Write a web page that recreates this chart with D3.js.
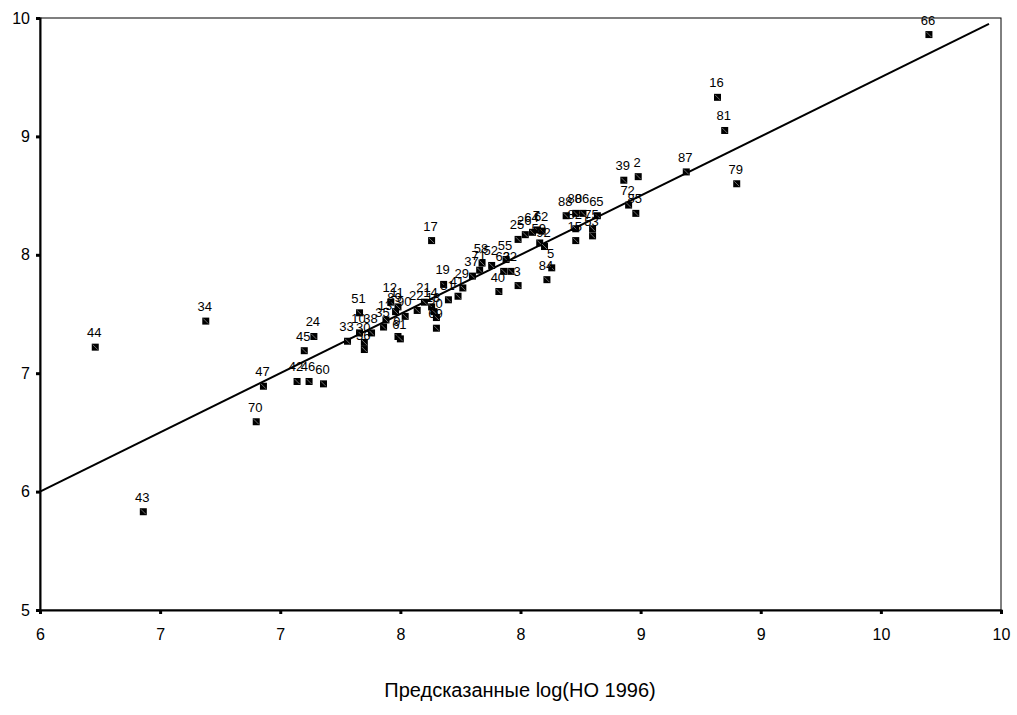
<!DOCTYPE html>
<html>
<head>
<meta charset="utf-8">
<script src="https://cdn.jsdelivr.net/npm/d3@7"></script>
<style>
  body { margin: 0; background: #fff; }
  text { font-family: Arial, "Liberation Sans", sans-serif; fill: #000; }
</style>
</head>
<body>
<div id="chart"></div>
<script>
// Case numbers, predicted log values (x) and observed log values (y)
const caseLabels = ["66","16","81","87","79","39","2","72","85","88","80","86","65","82","15","75","53",
  "25","26","64","7","62","59","92","5","84","55","63","32","3","40","58","52","71","37","29","41",
  "19","31","17","44","34","43","47","70","42","46","60","45","24","33","51","10","38","30","36",
  "35","13","12","89","11","90","9","61","22","21","14","18","20","69"];
const predicted = [9.70,8.82,8.85,8.69,8.90,8.43,8.49,8.45,8.48,8.19,8.23,8.26,8.32,8.23,8.23,8.30,8.30,
  7.99,8.02,8.05,8.07,8.09,8.08,8.10,8.13,8.11,7.94,7.93,7.96,7.99,7.91,7.84,7.88,7.83,7.80,7.76,7.74,
  7.68,7.70,7.63,6.23,6.69,6.43,6.93,6.90,7.07,7.12,7.18,7.10,7.14,7.28,7.33,7.33,7.38,7.35,7.35,
  7.43,7.44,7.46,7.48,7.49,7.52,7.49,7.50,7.57,7.60,7.63,7.64,7.65,7.65];
const observed = [9.86,9.33,9.05,8.70,8.60,8.63,8.66,8.42,8.35,8.33,8.35,8.35,8.33,8.22,8.12,8.22,8.16,
  8.13,8.17,8.19,8.21,8.20,8.10,8.07,7.89,7.79,7.96,7.86,7.86,7.74,7.69,7.93,7.91,7.87,7.82,7.72,7.65,
  7.75,7.62,8.12,7.22,7.44,5.83,6.89,6.59,6.93,6.93,6.91,7.19,7.31,7.27,7.51,7.34,7.34,7.26,7.20,
  7.39,7.45,7.60,7.52,7.56,7.48,7.31,7.29,7.53,7.60,7.56,7.52,7.47,7.38];

// Axis ticks
const xTicks = [6, 6.5, 7, 7.5, 8, 8.5, 9, 9.5, 10];
const yTicks = [5, 6, 7, 8, 9, 10];

// Fit line (observed on predicted)
const fitIntercept = 0;
const fitSlope = 1;
const fitRange = [6, 9.95];

const width = 1017;
const height = 715;
const margin = { top: 18, right: 16, bottom: 105, left: 40 };

const svg = d3.select("#chart")
              .append("svg")
              .attr("width", width)
              .attr("height", height);

const x = d3.scaleLinear().domain([6, 10]).range([margin.left, width - margin.right]);
const y = d3.scaleLinear().domain([5, 10]).range([height - margin.bottom, margin.top]);

// Frame
svg.append("rect")
   .attr("x", x(6))
   .attr("y", y(10))
   .attr("width", x(10) - x(6))
   .attr("height", y(5) - y(10))
   .attr("fill", "none")
   .attr("stroke", "#000")
   .attr("stroke-width", 1);

// Axes
const xAxis = svg.append("g")
   .attr("transform", `translate(0,${y(5)})`)
   .call(d3.axisBottom(x).tickValues(xTicks).tickFormat(d3.format(".0f")).tickSize(4).tickPadding(15));

const yAxis = svg.append("g")
   .attr("transform", `translate(${x(6)},0)`)
   .call(d3.axisLeft(y).tickValues(yTicks).tickFormat(d3.format(".0f")).tickSize(4).tickPadding(6));

[xAxis, yAxis].forEach(g => {
  g.select(".domain").attr("stroke-width", 2);
  g.selectAll(".tick line").attr("stroke-width", 3);
  g.selectAll(".tick text").attr("font-size", 16).style("font-family", "Arial, 'Liberation Sans', sans-serif");
});

// Fit line
svg.append("line")
   .attr("x1", x(fitRange[0]))
   .attr("y1", y(fitIntercept + fitSlope * fitRange[0]))
   .attr("x2", x(fitRange[1]))
   .attr("y2", y(fitIntercept + fitSlope * fitRange[1]))
   .attr("stroke", "#000")
   .attr("stroke-width", 2);

const points = caseLabels.map((c, i) => ({ label: c, px: predicted[i], obs: observed[i] }));

// Markers
const size = 7;
const marker = svg.selectAll(".marker")
   .data(points)
   .enter().append("g")
   .attr("class", "marker")
   .attr("transform", d => `translate(${x(d.px)},${y(d.obs)})`);

marker.append("rect")
   .attr("x", -size / 2)
   .attr("y", -size / 2)
   .attr("width", size)
   .attr("height", size)
   .attr("fill", "#000");

marker.append("line")
   .attr("x1", -size / 2 + 1)
   .attr("y1", -size / 2 + 1)
   .attr("x2", size / 2 - 1)
   .attr("y2", size / 2 - 1)
   .attr("stroke", "#888")
   .attr("stroke-width", 0.8);

// Case labels
svg.selectAll(".label")
   .data(points)
   .enter().append("text")
   .attr("class", "label")
   .attr("x", d => x(d.px) - 1)
   .attr("y", d => y(d.obs) - 10)
   .attr("text-anchor", "middle")
   .attr("font-size", 13)
   .text(d => d.label);

// Axis title
svg.append("text")
   .attr("x", 520)
   .attr("y", 697)
   .attr("text-anchor", "middle")
   .attr("font-size", 20)
   .text("Предсказанные log(НО 1996)");
</script>
</body>
</html>
